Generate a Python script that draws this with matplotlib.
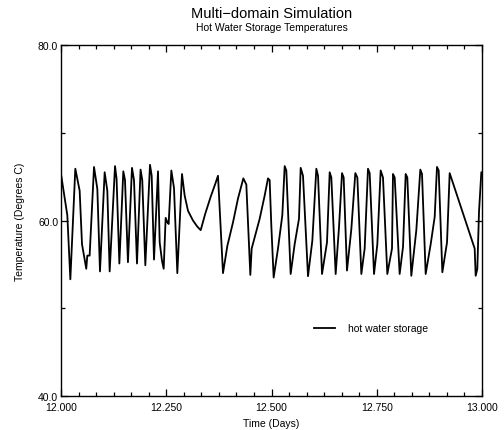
import matplotlib
matplotlib.use("Agg")
import matplotlib.pyplot as plt
from matplotlib.ticker import MultipleLocator, FixedLocator

plt.rcParams['font.family'] = ['Liberation Sans', 'DejaVu Sans']

title = "Multi\u2212domain Simulation"
subtitle = "Hot Water Storage Temperatures"
x_label = "Time (Days)"
y_label = "Temperature (Degrees C)"
series_name = "hot water storage"

x_ticks = [12.0, 12.25, 12.5, 12.75, 13.0]
x_tick_labels = ["12.000", "12.250", "12.500", "12.750", "13.000"]
y_ticks = [40.0, 60.0, 80.0]
y_tick_labels = ["40.0", "60.0", "80.0"]

time_days = [
    12.0000, 12.0150, 12.0222, 12.0340, 12.0443, 12.0499, 12.0600, 12.0625, 12.0680,
    12.0784, 12.0863, 12.0926, 12.1037, 12.1100, 12.1156, 12.1283, 12.1320, 12.1386,
    12.1480, 12.1520, 12.1590, 12.1686, 12.1734, 12.1805, 12.1890, 12.1930, 12.2003,
    12.2114, 12.2154, 12.2209, 12.2304, 12.2344, 12.2399, 12.2439, 12.2486, 12.2526,
    12.2557, 12.2621, 12.2684, 12.2763, 12.2874, 12.2937, 12.3017, 12.3135, 12.3238,
    12.3318, 12.3428, 12.3555, 12.3666, 12.3729, 12.3848, 12.3951, 12.4086, 12.4204,
    12.4331, 12.4402, 12.4497, 12.4529, 12.4719, 12.4838, 12.4917, 12.4956, 12.4996,
    12.5051, 12.5154, 12.5257, 12.5313, 12.5352, 12.5455, 12.5550, 12.5653, 12.5693,
    12.5748, 12.5867, 12.5970, 12.6065, 12.6105, 12.6200, 12.6318, 12.6382, 12.6421,
    12.6524, 12.6603, 12.6675, 12.6714, 12.6793, 12.6896, 12.6991, 12.7039, 12.7134,
    12.7213, 12.7292, 12.7332, 12.7435, 12.7514, 12.7593, 12.7648, 12.7751, 12.7862,
    12.7886, 12.7926, 12.8044, 12.8124, 12.8187, 12.8226, 12.8321, 12.8440, 12.8535,
    12.8575, 12.8662, 12.8781, 12.8876, 12.8931, 12.8971, 12.9058, 12.9169, 12.9232,
    12.9826, 12.9850, 12.9889, 12.9929, 12.9984, 13.0000,
]
temperature = [
    65.3, 60.6, 53.3, 65.9, 63.4, 57.3, 54.5, 56.0, 56.0,
    66.1, 63.6, 54.2, 65.5, 63.4, 54.2, 66.2, 64.75, 55.1,
    65.6, 64.6, 55.25, 66.0, 64.6, 55.1, 65.8, 64.6, 54.9,
    66.35, 65.1, 55.55, 65.6, 57.5, 55.4, 54.5, 60.3, 59.8,
    59.6, 65.7, 63.7, 54.0, 65.3, 62.85, 61.1, 60.0, 59.3,
    58.9, 60.8, 62.7, 64.2, 65.1, 54.0, 57.1, 59.8, 62.5,
    64.8, 64.1, 53.8, 56.8, 60.2, 62.85, 64.8, 64.6, 59.4,
    53.5, 56.8, 60.6, 66.2, 65.7, 53.9, 57.3, 60.2, 66.0,
    65.1, 53.65, 57.7, 65.9, 65.1, 53.9, 57.5, 65.5, 64.9,
    53.9, 59.2, 65.4, 64.9, 54.3, 59.0, 65.4, 64.9, 53.9,
    56.8, 65.9, 65.4, 53.9, 57.3, 65.7, 64.9, 53.9, 56.8,
    65.3, 64.9, 53.9, 57.0, 65.3, 64.9, 53.7, 58.9, 65.8,
    65.3, 53.9, 57.3, 60.4, 66.1, 65.7, 54.1, 57.5, 65.4,
    56.8, 53.7, 54.5, 61.0, 65.5, 65.5,
]

fig = plt.figure(figsize=(5.04, 4.31), dpi=100)
ax = fig.add_axes([61/504, 34/431, 421/504, 351/431])

ax.plot(time_days, temperature, color="black", lw=1.3, label=series_name)

ax.set_xlim(12.0, 13.0)
ax.set_ylim(40.0, 80.0)
ax.xaxis.set_major_locator(FixedLocator(x_ticks))
ax.set_xticklabels(x_tick_labels)
ax.xaxis.set_minor_locator(MultipleLocator(1/24))
ax.yaxis.set_major_locator(FixedLocator(y_ticks))
ax.set_yticklabels(y_tick_labels)
ax.yaxis.set_minor_locator(MultipleLocator(10))

ax.tick_params(which="both", direction="in", top=True, right=True, labelsize=7.5, width=0.9)
ax.tick_params(which="major", length=5)
ax.tick_params(which="minor", length=3)
ax.tick_params(axis="x", which="major", pad=4)
ax.tick_params(axis="y", which="major", pad=2)
for s in ax.spines.values():
    s.set_linewidth(1.0)

ax.set_xlabel(x_label, fontsize=7.5, labelpad=5)
ax.set_ylabel(y_label, fontsize=7.5, labelpad=9)

fig.text(271.5/504, 1 - 14/431, title, ha="center", va="center", fontsize=10.5)
fig.text(271.5/504, 1 - 28/431, subtitle, ha="center", va="center", fontsize=7.5)

ax.legend(loc="upper left", bbox_to_anchor=((310 - 61)/421, (397 - 320)/351),
          frameon=False, fontsize=7.5, handlelength=2.0, handletextpad=1.2,
          borderaxespad=0)

fig.savefig("out.png", dpi=100)
